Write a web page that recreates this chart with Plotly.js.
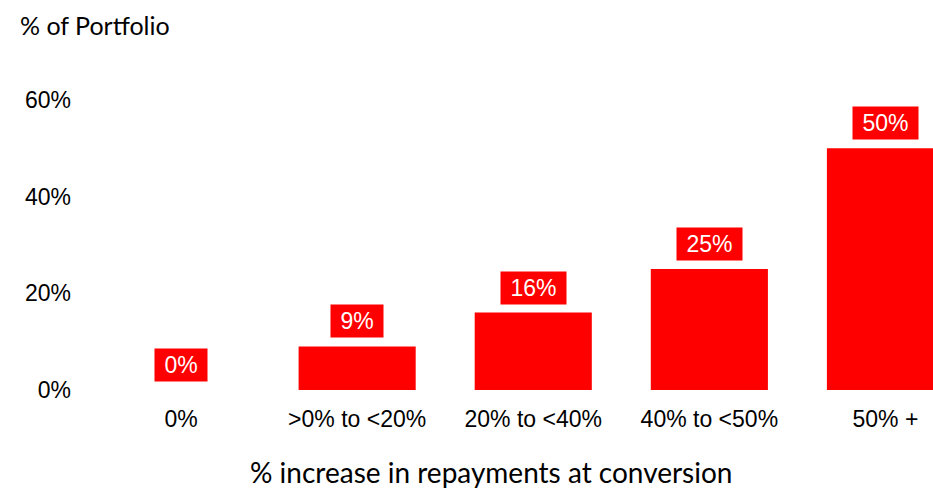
<!DOCTYPE html>
<html><head><meta charset="utf-8">
<script src="https://cdn.plot.ly/plotly-3.0.1.min.js"></script>
<style>html,body{margin:0;padding:0;overflow:hidden;background:#fff}</style>
</head><body><div id="chart" style="width:933px;height:491px"></div>
<script>
const categories = ["0%", ">0% to <20%", "20% to <40%", "40% to <50%", "50% +"];
const values = [0, 9, 16, 25, 50];
const valueLabels = ["0%", "9%", "16%", "25%", "50%"];
const yTickVals = [0, 20, 40, 60];
const yTickText = ["0%", "20%", "40%", "60%"];

const trace = {
  type: "bar",
  x: categories.map((c, i) => i),
  y: values,
  width: 0.665,
  marker: {color: "#ff0000"},
  hoverinfo: "none"
};

const annotations = values.map((v, i) => ({
  x: i, y: v, xref: "x", yref: "y",
  text: " " + valueLabels[i] + " ",
  showarrow: false,
  yanchor: "bottom",
  yshift: 8,
  bgcolor: "#ff0000",
  borderpad: 3,
  font: {family: "Liberation Sans, Arial", size: 23, color: "#ffffff"}
}));
annotations.push({
  xref: "paper", yref: "paper", x: -93/840, y: 1, xanchor: "left", yanchor: "middle",
  yshift: 55, xshift: 18,
  text: "% of Portfolio", showarrow: false,
  font: {family: "Lato, Noto Sans", size: 25, color: "#000"}
});
annotations.push({
  xref: "paper", yref: "paper", x: (491-93)/840, y: 0, xanchor: "center", yanchor: "bottom",
  yshift: -101,
  text: "% increase in repayments at conversion", showarrow: false,
  font: {family: "Lato, Noto Sans", size: 28, color: "#000"}
});

const layout = {
  width: 933, height: 491,
  margin: {l: 93, r: 0, t: 80, b: 101, pad: 0},
  paper_bgcolor: "#fff", plot_bgcolor: "#fff",
  showlegend: false,
  xaxis: {
    range: [-0.5, 4.27],
    tickvals: categories.map((c, i) => i),
    ticktext: categories,
    showgrid: false, zeroline: false, showline: false, ticks: "",
    ticklabelstandoff: 13,
    tickfont: {family: "Liberation Sans, Arial", size: 23, color: "#000"}
  },
  yaxis: {
    range: [0, 64.1],
    tickvals: yTickVals, ticktext: yTickText,
    showgrid: false, zeroline: false, showline: false, ticks: "",
    ticklabelstandoff: 21,
    tickfont: {family: "Liberation Sans, Arial", size: 23, color: "#000"}
  },
  annotations: annotations
};

Plotly.newPlot("chart", [trace], layout, {displayModeBar: false, staticPlot: true});
</script></body></html>
